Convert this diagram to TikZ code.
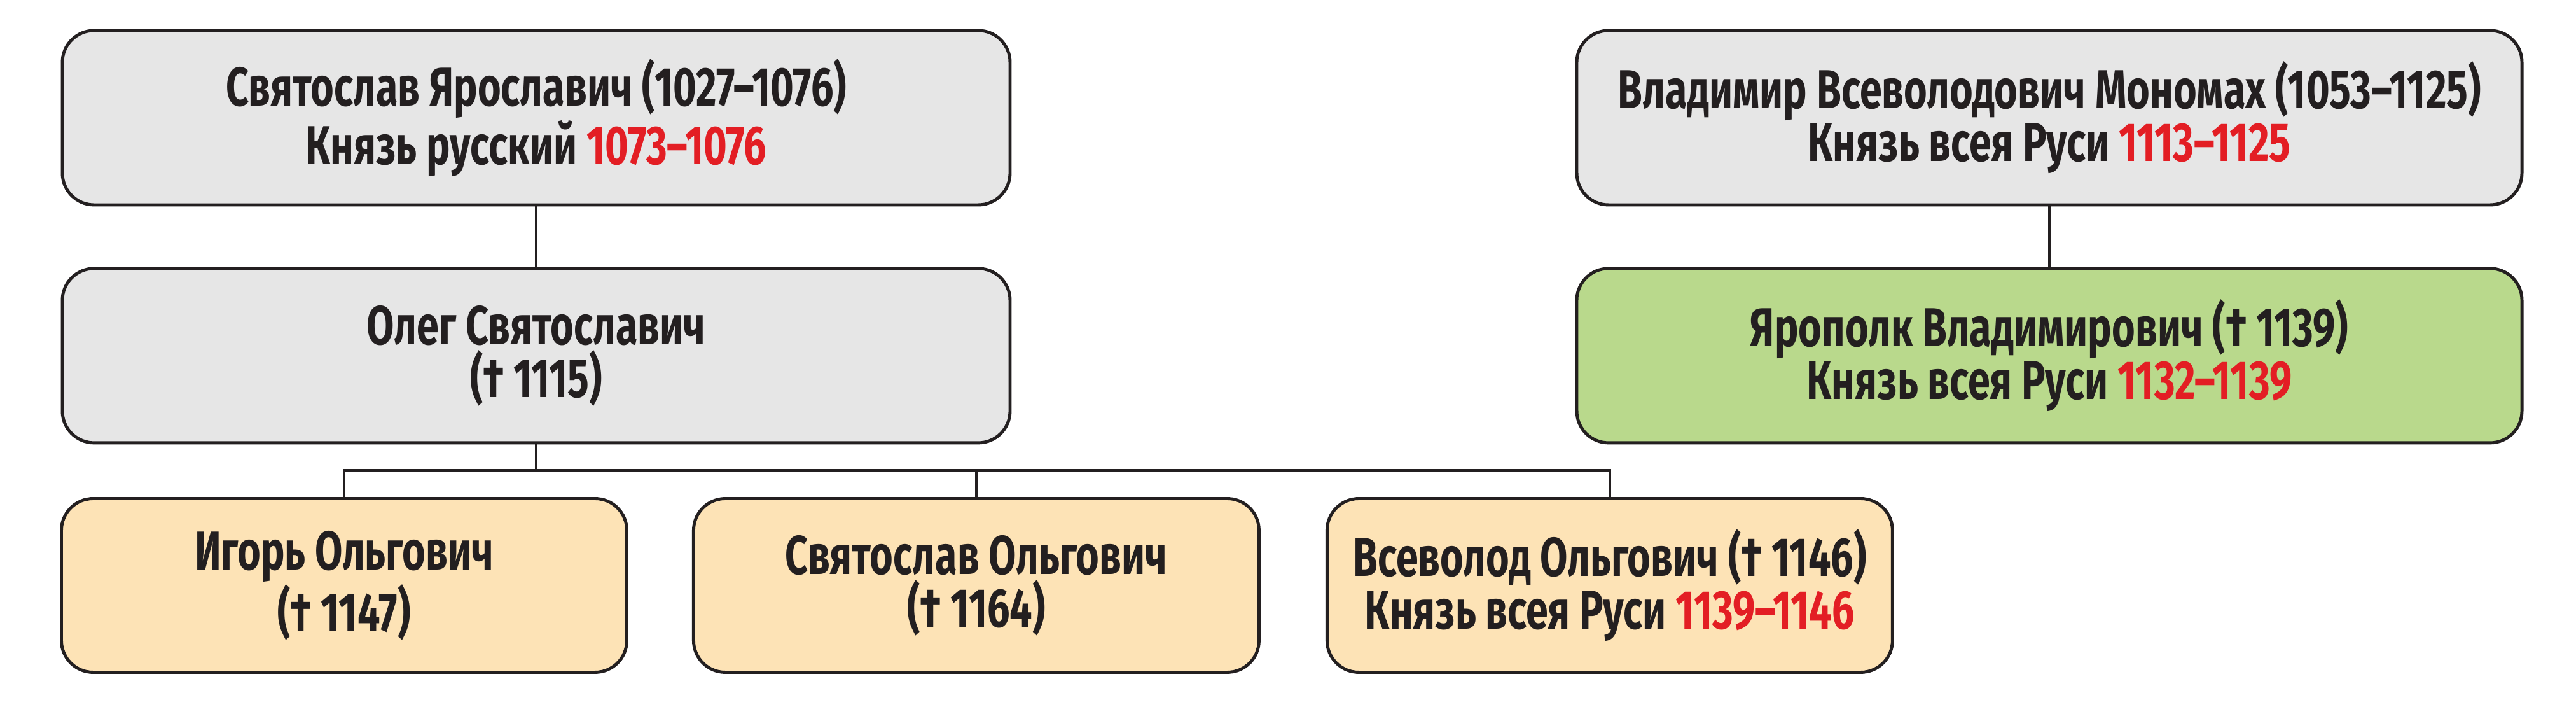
\documentclass[tikz,border=0pt]{standalone}
\usepackage{fontspec}
\usepackage{xcolor}
\usepackage{tikz}
\usetikzlibrary{positioning,calc}
\newfontfamily\treefont{Fira Sans}[FakeStretch=0.73]

\definecolor{inkblack}{RGB}{35,31,32}
\definecolor{datered}{RGB}{227,30,36}
\definecolor{greyfill}{RGB}{230,230,230}
\definecolor{greenfill}{RGB}{185,217,140}
\definecolor{peachfill}{RGB}{253,227,182}

\newcommand{\reign}[1]{\textcolor{datered}{#1}}

\tikzset{
    person/.style={draw=inkblack, line width=1.4pt, rounded corners=0.5cm,
        align=center, text=inkblack, inner sep=0pt,
        font=\treefont\bfseries\fontsize{24.5}{23.6}\selectfont},
    widebox/.style={person, minimum width=14.9cm, minimum height=2.74cm},
    narrowbox/.style={person, minimum width=8.89cm, minimum height=2.73cm},
    link/.style={draw=inkblack, line width=1.3pt}
}

\begin{document}
\begin{tikzpicture}
    \useasboundingbox (0,0) rectangle (40.5,11.44);

    % Left branch
    \node[widebox, fill=greyfill] (svyatoslav) at (8.43,9.59)
        {Святослав Ярославич (1027–1076)\\Князь русский \reign{1073–1076}};
    \node[widebox, fill=greyfill, below=0.95cm of svyatoslav] (oleg)
        {Олег Святославич\\(† 1115)};

    % Sons of Oleg
    \node[narrowbox, fill=peachfill] (igor) at (5.41,2.24)
        {Игорь Ольгович\\(† 1147)};
    \node[narrowbox, fill=peachfill, right=1cm of igor] (svyatoslavo)
        {Святослав Ольгович\\(† 1164)};
    \node[narrowbox, fill=peachfill, right=1.02cm of svyatoslavo] (vsevolod)
        {Всеволод Ольгович († 1146)\\Князь всея Руси \reign{1139–1146}};

    % Right branch
    \node[widebox, fill=greyfill, minimum width=14.86cm] (vladimir) at (32.22,9.59)
        {Владимир Всеволодович Мономах (1053–1125)\\Князь всея Руси \reign{1113–1125}};
    \node[widebox, fill=greenfill, minimum width=14.86cm, below=0.95cm of vladimir] (yaropolk)
        {Ярополк Владимирович († 1139)\\Князь всея Руси \reign{1132–1139}};

    % Links
    \coordinate (bus) at ($(oleg.south)!0.5!(igor.north)$);
    \draw[link] (svyatoslav) -- (oleg);
    \draw[link] (vladimir) -- (yaropolk);
    \draw[link] (oleg.south) -- (oleg.south |- bus);
    \draw[link] (igor.north) -- (igor.north |- bus) -| (vsevolod.north);
    \draw[link] (svyatoslavo.north) -- (svyatoslavo.north |- bus);
\end{tikzpicture}
\end{document}
